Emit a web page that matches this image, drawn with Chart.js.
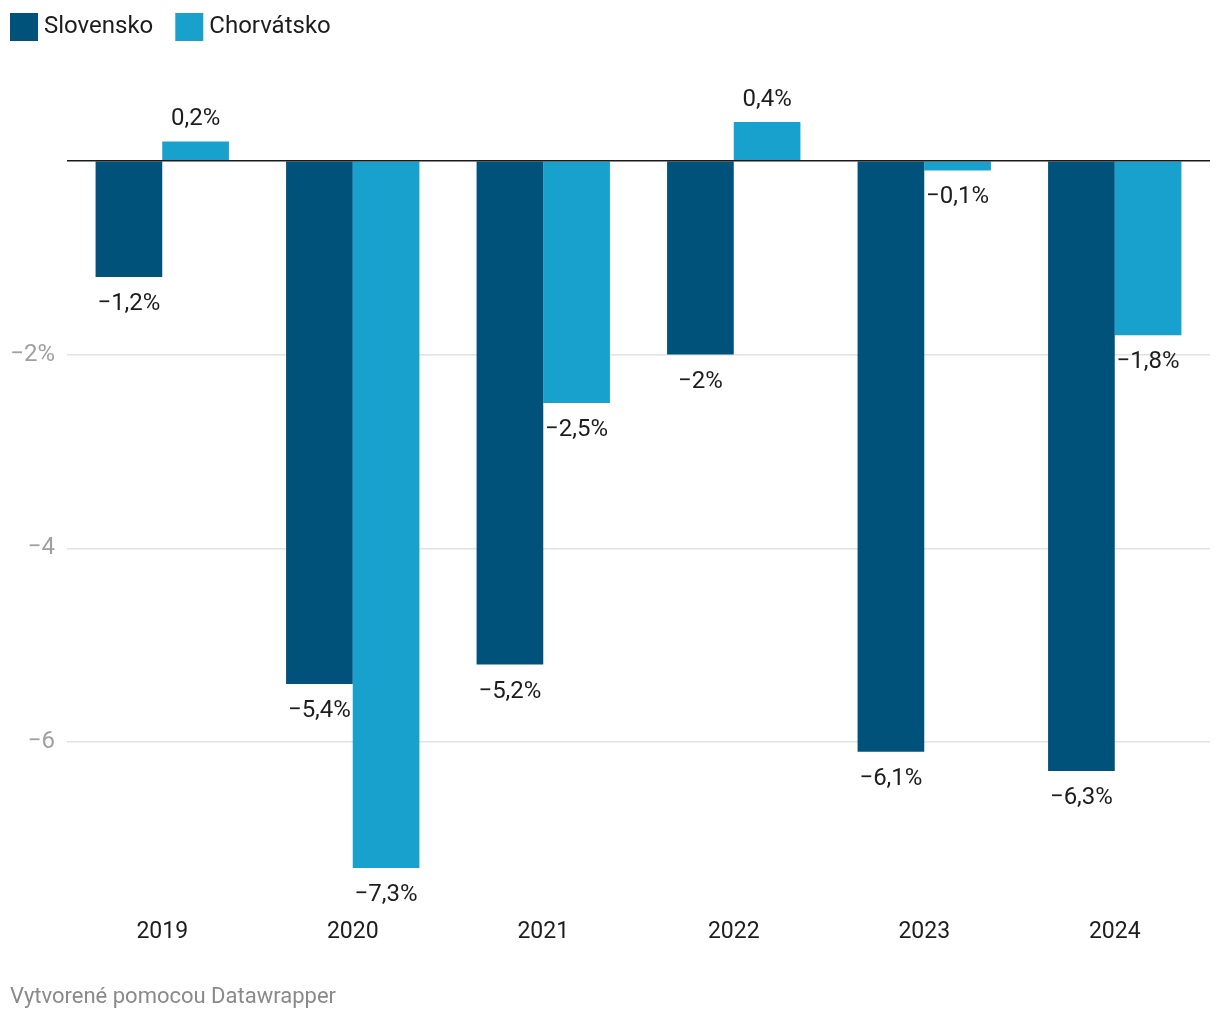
<!DOCTYPE html>
<html>
<head>
<meta charset="utf-8">
<script src="https://cdn.jsdelivr.net/npm/chart.js@4"></script>
<style>
html,body{margin:0;padding:0;background:#fff;}
#wrap{width:1220px;height:1020px;position:relative;}
</style>
</head>
<body>
<div id="wrap"><canvas id="c" width="1220" height="1020"></canvas></div>
<script>
const categories = ['2019','2020','2021','2022','2023','2024'];
const seriesNames = ['Slovensko','Chorvátsko'];
const slovensko = [-1.2, -5.4, -5.2, -2, -6.1, -6.3];
const chorvatsko = [0.2, -7.3, -2.5, 0.4, -0.1, -1.8];
const yTickLabels = {'-2':'−2%','-4':'−4','-6':'−6'};
const colors = ['#00527b','#19a1ce'];
const FONT = 'Roboto';

function fmt(v){
  const s = Math.abs(v).toString().replace('.', ',');
  return (v < 0 ? '−' : '') + s + '%';
}

const overlay = {
  id:'overlay',
  afterDatasetsDraw(chart){
    const ctx = chart.ctx;
    ctx.save();
    const y = chart.scales.y;
    const y0 = y.getPixelForValue(0);
    ctx.strokeStyle = '#1a1a1a';
    ctx.lineWidth = 1.6;
    ctx.beginPath();
    ctx.moveTo(chart.chartArea.left, y0);
    ctx.lineTo(chart.chartArea.right, y0);
    ctx.stroke();
    ctx.font = '24px ' + FONT;
    ctx.fillStyle = '#1d1d1d';
    ctx.textAlign = 'center';
    ctx.textBaseline = 'middle';
    chart.data.datasets.forEach((ds, di) => {
      const meta = chart.getDatasetMeta(di);
      meta.data.forEach((bar, i) => {
        const v = ds.data[i];
        const ty = v >= 0 ? bar.y - 22 : bar.y + 27;
        ctx.fillText(fmt(v), bar.x, ty);
      });
    });
    ctx.textAlign = 'left';
    ctx.textBaseline = 'middle';
    ctx.font = '24px ' + FONT;
    let lx = 10;
    seriesNames.forEach((n, i) => {
      ctx.fillStyle = colors[i];
      ctx.fillRect(lx, 13, 28, 28);
      ctx.fillStyle = '#1d1d1d';
      ctx.fillText(n, lx + 34, 27);
      lx += 34 + ctx.measureText(n).width + 22;
    });
    ctx.font = '22px ' + FONT;
    ctx.fillStyle = '#8a8a8a';
    ctx.fillText('Vytvorené pomocou Datawrapper', 10, 997);
    ctx.restore();
  }
};

new Chart(document.getElementById('c'), {
  type:'bar',
  data:{
    labels: categories,
    datasets:[
      {label: seriesNames[0], data: slovensko, backgroundColor: colors[0], categoryPercentage:0.7, barPercentage:1.0},
      {label: seriesNames[1], data: chorvatsko, backgroundColor: colors[1], categoryPercentage:0.7, barPercentage:1.0}
    ]
  },
  options:{
    responsive:false,
    animation:false,
    devicePixelRatio:1,
    layout:{padding:{left:0, right:10, top:122, bottom:52}},
    plugins:{legend:{display:false}, tooltip:{enabled:false}},
    scales:{
      x:{
        grid:{display:false},
        border:{display:false},
        ticks:{font:{family:FONT,size:23}, color:'#1d1d1d', padding:42, maxRotation:0},
        afterFit(s){ s.height = 100; }
      },
      y:{
        min:-7.3, max:0.4,
        afterBuildTicks(s){ s.ticks = [{value:-6},{value:-4},{value:-2},{value:0}]; },
        afterFit(s){ s.width = 67; },
        border:{display:false},
        grid:{
          drawTicks:false,
          color(c){ return c.tick && c.tick.value === 0 ? 'rgba(0,0,0,0)' : '#e2e2e2'; },
          lineWidth:1.5
        },
        ticks:{
          font:{family:FONT,size:24}, color:'#a0a0a0', padding:12,
          callback(v){ return yTickLabels[String(v)] || ''; }
        }
      }
    }
  },
  plugins:[overlay]
});
</script>
</body>
</html>
